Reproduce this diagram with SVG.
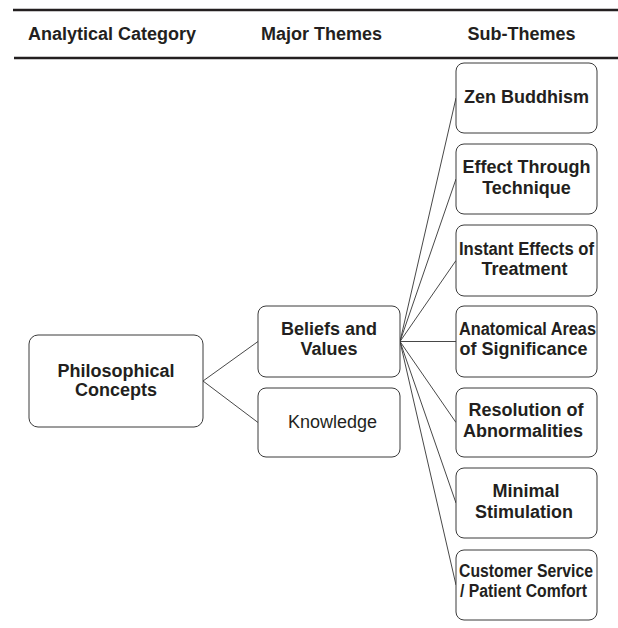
<svg xmlns="http://www.w3.org/2000/svg" width="618" height="628" viewBox="0 0 618 628">
<style>
  .box { fill: #ffffff; stroke: #3a3a3a; stroke-width: 1; }
  .t { font-family: "Liberation Sans", Arial, sans-serif; font-size: 18px; fill: #231f20; text-anchor: middle; }
  .b { font-weight: bold; }
  .rule { stroke: #231f20; stroke-width: 2.5; }
  .conn line { stroke: #333333; stroke-width: 0.9; }
</style>
<rect width="618" height="628" fill="#ffffff"/>
<g id="header">
  <line class="rule" x1="13" y1="10" x2="618" y2="10"/>
  <line class="rule" x1="14" y1="58" x2="618" y2="58"/>
  <text class="t b" x="112" y="40">Analytical Category</text>
  <text class="t b" x="321.5" y="40">Major Themes</text>
  <text class="t b" x="521.5" y="40">Sub-Themes</text>
</g>
<g id="connectors" class="conn">
  <line x1="203" y1="381" x2="258" y2="341.5"/>
  <line x1="203" y1="381" x2="258" y2="422.5"/>
  <line x1="400" y1="341.5" x2="456" y2="98"/>
  <line x1="400" y1="341.5" x2="456" y2="179"/>
  <line x1="400" y1="341.5" x2="456" y2="260.5"/>
  <line x1="400" y1="341.5" x2="456" y2="341.5"/>
  <line x1="400" y1="341.5" x2="456" y2="422.5"/>
  <line x1="400" y1="341.5" x2="456" y2="503"/>
  <line x1="400" y1="341.5" x2="456" y2="585"/>
</g>
<g id="philosophical">
  <rect class="box" x="29" y="335" width="174" height="92" rx="9"/>
  <text class="t b" x="116" y="377">Philosophical</text>
  <text class="t b" x="116" y="396">Concepts</text>
</g>
<g id="beliefs">
  <rect class="box" x="258" y="306" width="142" height="71" rx="8"/>
  <text class="t b" x="329" y="335">Beliefs and</text>
  <text class="t b" x="329" y="355">Values</text>
</g>
<g id="knowledge">
  <rect class="box" x="258" y="388" width="142" height="69" rx="8"/>
  <text class="t" x="332.5" y="428">Knowledge</text>
</g>
<g id="zen">
  <rect class="box" x="456" y="63" width="141" height="70" rx="8"/>
  <text class="t b" x="526.5" y="103">Zen Buddhism</text>
</g>
<g id="effect">
  <rect class="box" x="456" y="144" width="141" height="70" rx="8"/>
  <text class="t b" x="526.5" y="173">Effect Through</text>
  <text class="t b" x="526.5" y="194">Technique</text>
</g>
<g id="instant">
  <rect class="box" x="456" y="225" width="141" height="71" rx="8"/>
  <text class="t b" x="526.5" y="255" textLength="135" lengthAdjust="spacingAndGlyphs">Instant Effects of</text>
  <text class="t b" x="524.5" y="275">Treatment</text>
</g>
<g id="anatomical">
  <rect class="box" x="456" y="306" width="141" height="71" rx="8"/>
  <text class="t b" x="527.5" y="335" textLength="137" lengthAdjust="spacingAndGlyphs">Anatomical Areas</text>
  <text class="t b" x="523.5" y="355">of Significance</text>
</g>
<g id="resolution">
  <rect class="box" x="456" y="388" width="141" height="69" rx="8"/>
  <text class="t b" x="526" y="416">Resolution of</text>
  <text class="t b" x="523" y="437">Abnormalities</text>
</g>
<g id="minimal">
  <rect class="box" x="456" y="468" width="141" height="70" rx="8"/>
  <text class="t b" x="526" y="497">Minimal</text>
  <text class="t b" x="524" y="518">Stimulation</text>
</g>
<g id="customer">
  <rect class="box" x="456" y="550" width="141" height="70" rx="8"/>
  <text class="t b" x="526" y="577" textLength="134" lengthAdjust="spacingAndGlyphs">Customer Service</text>
  <text class="t b" x="523.5" y="597" textLength="127" lengthAdjust="spacingAndGlyphs">/ Patient Comfort</text>
</g>
</svg>
